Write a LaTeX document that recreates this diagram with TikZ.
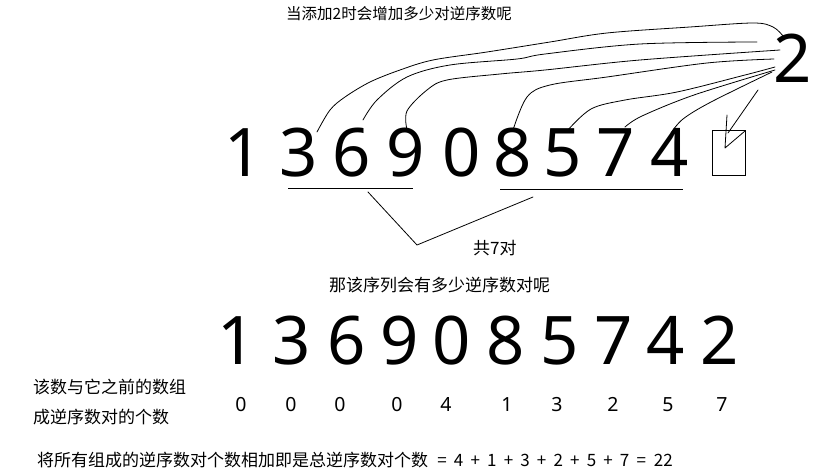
\documentclass[tikz,border=0pt]{standalone}
\usepackage{fontspec}
\setmainfont{Noto Sans CJK SC}
\newfontfamily\digitfont{Noto Sans}
\newcommand\eqbox[1]{\makebox[16.6pt][c]{#1}}
\begin{document}
\begin{tikzpicture}[x=1pt,y=-1pt,
  bigdigit/.style={font=\digitfont\fontsize{67}{67}\selectfont, inner sep=0pt, anchor=base},
  cnt/.style={font=\digitfont\fontsize{19.5}{20}\selectfont, inner sep=0pt, anchor=base},
  cjk/.style={font=\fontsize{17}{20}\selectfont, inner sep=0pt, anchor=base west},
  hand/.style={line width=0.8pt, line join=round, line cap=round},
  rule/.style={line width=1pt},
]
\fill[white] (0,0) rectangle (837,473);
\useasboundingbox (0,0) rectangle (837,473);

% title
\node[font=\fontsize{15.5}{18}\selectfont, inner sep=0pt, anchor=base west] (title) at (286,20) {当添加2时会增加多少对逆序数呢};

% top row
\foreach \d/\x [count=\i] in {1/244,3/299,6/352,9/406,0/462,8/513,5/563,7/616,4/670}
  \node[bigdigit] (t\i) at (\x,177) {\d};
\node[draw, line width=0.8pt, minimum width=33pt, minimum height=45pt, inner sep=0pt] (box) at (728.5,152.5) {};
\node[bigdigit] (two) at (792.5,83) {2};

% hand-drawn curves
\draw[hand] plot[smooth, tension=0.55] coordinates {(317,132) (330,110) (345,97) (370,82) (400,70) (433,60) (487,52) (550,42) (607,33) (690,27) (753,23) (773,27) (783,36)};
\draw[hand] plot[smooth, tension=0.55] coordinates {(363,120) (377,100) (407,77) (450,65) (517,59) (545,54) (640,44) (757,42)};
\draw[hand] plot[smooth, tension=0.55] coordinates {(407,130) (407,111) (427,90) (447,80) (500,74) (545,70) (640,60) (780,50)};
\draw[hand] plot[smooth, tension=0.55] coordinates {(513,130) (527,97) (550,85) (607,77) (707,63) (774,59)};
\draw[hand] plot[smooth, tension=0.55] coordinates {(567,131) (591,109) (625,100) (677,92) (745,75) (775,67)};
\draw[hand] plot[smooth, tension=0.55] coordinates {(625,127) (642,116) (694,95) (775,70)};
\draw[hand] plot[smooth, tension=0.55] coordinates {(671,133) (683,119) (711,102) (772,72)};
\draw[hand] (758,90) -- (728,133);
\draw[hand] (727,115) -- (725,148) -- (745,131);

% underlines and bracket
\coordinate (ul1) at (288,188); \coordinate (ul2) at (413,188);
\coordinate (ur1) at (500,189); \coordinate (ur2) at (683,189);
\draw[rule] (ul1) -- (ul2);
\draw[rule] (ur1) -- (ur2);
\coordinate (v1) at (368,192); \coordinate (v2) at (417,245); \coordinate (v3) at (533,197);
\draw[hand] (v1) -- (v2) -- (v3);
\node[cjk] (total) at (473,254.5) {共7对};

\node[cjk] (question) at (329,291.5) {那该序列会有多少逆序数对呢};

% bottom row
\foreach \d/\x [count=\i] in {1/236.5,3/292,6/347,9/400,0/452,8/506,5/560,7/614,4/666,2/720}
  \node[bigdigit] (b\i) at (\x,364) {\d};
\foreach \d/\x [count=\i] in {0/241,0/291,0/340,0/397,4/446,1/507,3/557,2/613,5/668,7/722}
  \node[cnt] (c\i) at (\x,411) {\d};

\node[cjk] (lab1) at (33,393.5) {该数与它之前的数组};
\node[cjk] (lab2) at (33,423.5) {成逆序数对的个数};

\node[cjk] (sum) at (37,466.5) {将所有组成的逆序数对个数相加即是总逆序数对个数\hspace{5.6pt}\eqbox{=}\eqbox{4}\eqbox{+}\eqbox{1}\eqbox{+}\eqbox{3}\eqbox{+}\eqbox{2}\eqbox{+}\eqbox{5}\eqbox{+}\eqbox{7}\eqbox{=}\hspace{4.3pt}22};
\end{tikzpicture}
\end{document}
